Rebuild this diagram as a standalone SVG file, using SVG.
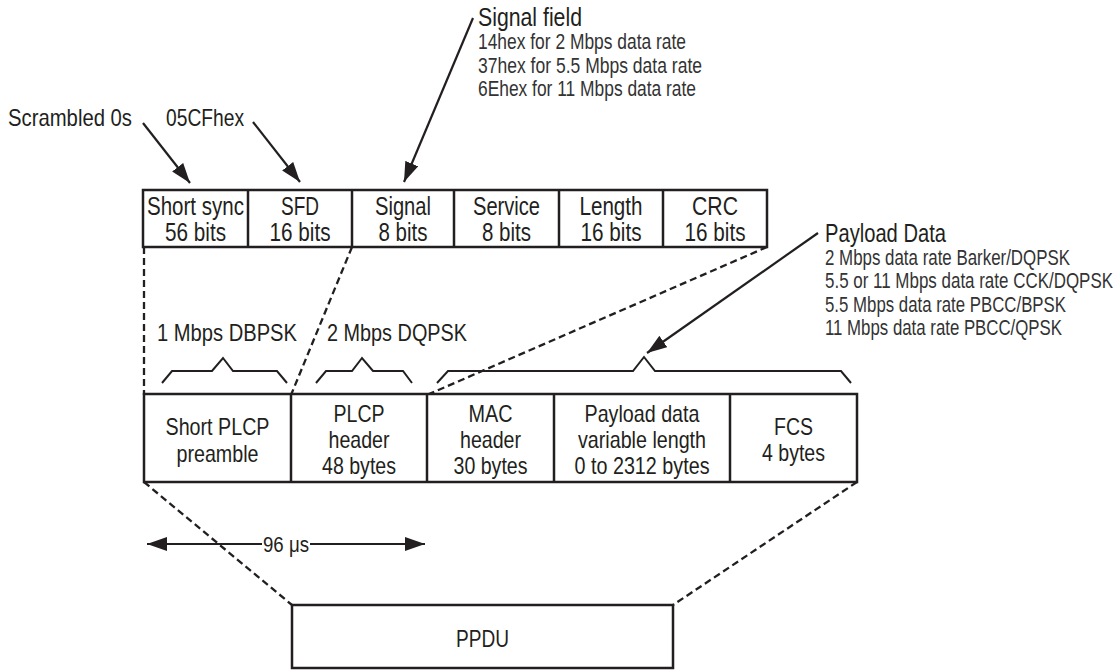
<svg xmlns="http://www.w3.org/2000/svg" width="1118" height="671" viewBox="0 0 1118 671">
<style>
text{font-family:"Liberation Sans",Arial,sans-serif;fill:#231f20}
.c{text-anchor:middle}
.f25{font-size:25px}
.f24{font-size:24px}
.sub{font-size:21.5px;fill:#333}
.box{fill:#fff;stroke:#231f20;stroke-width:2.5}
.div{stroke:#231f20;stroke-width:2.5}
.dash{fill:none;stroke:#231f20;stroke-width:2.3;stroke-dasharray:7 4}
.brace{fill:none;stroke:#231f20;stroke-width:2}
.arr{fill:none;stroke:#231f20;stroke-width:2.2}
</style>
<defs>
<marker id="ah" markerUnits="userSpaceOnUse" markerWidth="22" markerHeight="14" refX="20" refY="7" orient="auto">
<path d="M0,0 L20,7 L0,14 z" fill="#231f20"/>
</marker>
</defs>
<rect width="1118" height="671" fill="#fff"/>

<g id="connectors">
<path class="dash" d="M144,247 L144,395"/>
<path class="dash" d="M352,247 L291,395"/>
<path class="dash" d="M767,247 L427,395"/>
<path class="dash" d="M144,482 L292,605"/>
<path class="dash" d="M857,482 L673,605"/>
<path class="arr" d="M143,123 L190,183" marker-end="url(#ah)"/>
<path class="arr" d="M253,122 L300,182" marker-end="url(#ah)"/>
<path class="arr" d="M473,18 L404,182" marker-end="url(#ah)"/>
<path class="arr" d="M818,233 L647,353" marker-end="url(#ah)"/>
<polyline class="brace" points="162,383 172,371 212,371 223,358 233,371 277,371 287,383"/>
<polyline class="brace" points="316,383 326,371 352,371 362,358 373,371 403,371 412,383"/>
<polyline class="brace" points="437,383 448,371 633,371 644,357 655,371 841,371 851,383"/>
<path class="arr" d="M262,544 L147,544" marker-end="url(#ah)"/>
<path class="arr" d="M310,544 L425,544" marker-end="url(#ah)"/>
</g>

<g id="label-scrambled"><text class="f24" x="8" y="126" textLength="124" lengthAdjust="spacingAndGlyphs">Scrambled 0s</text></g>
<g id="label-05cf"><text class="f24" x="166" y="126" textLength="78" lengthAdjust="spacingAndGlyphs">05CFhex</text></g>
<g id="label-signal-field">
<text class="f25" x="478" y="26" textLength="104" lengthAdjust="spacingAndGlyphs">Signal field</text>
<text class="sub" x="478" y="49" textLength="208" lengthAdjust="spacingAndGlyphs">14hex for 2 Mbps data rate</text>
<text class="sub" x="478" y="73" textLength="224" lengthAdjust="spacingAndGlyphs">37hex for 5.5 Mbps data rate</text>
<text class="sub" x="478" y="96" textLength="218" lengthAdjust="spacingAndGlyphs">6Ehex for 11 Mbps data rate</text>
</g>
<g id="label-payload">
<text class="f25" x="825" y="242" textLength="121" lengthAdjust="spacingAndGlyphs">Payload Data</text>
<text class="sub" x="825" y="265" textLength="245" lengthAdjust="spacingAndGlyphs">2 Mbps data rate Barker/DQPSK</text>
<text class="sub" x="825" y="288" textLength="288" lengthAdjust="spacingAndGlyphs">5.5 or 11 Mbps data rate CCK/DQPSK</text>
<text class="sub" x="825" y="312" textLength="241" lengthAdjust="spacingAndGlyphs">5.5 Mbps data rate PBCC/BPSK</text>
<text class="sub" x="825" y="335" textLength="237" lengthAdjust="spacingAndGlyphs">11 Mbps data rate PBCC/QPSK</text>
</g>

<g id="plcp-fields">
<rect class="box" x="143" y="190" width="624" height="57"/>
<line class="div" x1="248" y1="190" x2="248" y2="247"/>
<line class="div" x1="352" y1="190" x2="352" y2="247"/>
<line class="div" x1="454" y1="190" x2="454" y2="247"/>
<line class="div" x1="559" y1="190" x2="559" y2="247"/>
<line class="div" x1="663" y1="190" x2="663" y2="247"/>
<g id="f-shortsync"><text class="c f25" x="195.5" y="215" textLength="97" lengthAdjust="spacingAndGlyphs">Short sync</text><text class="c f25" x="195.5" y="241" textLength="61" lengthAdjust="spacingAndGlyphs">56 bits</text></g>
<g id="f-sfd"><text class="c f25" x="300" y="215" textLength="38" lengthAdjust="spacingAndGlyphs">SFD</text><text class="c f25" x="300" y="241" textLength="61" lengthAdjust="spacingAndGlyphs">16 bits</text></g>
<g id="f-signal"><text class="c f25" x="403" y="215" textLength="56" lengthAdjust="spacingAndGlyphs">Signal</text><text class="c f25" x="403" y="241" textLength="49" lengthAdjust="spacingAndGlyphs">8 bits</text></g>
<g id="f-service"><text class="c f25" x="506.5" y="215" textLength="67" lengthAdjust="spacingAndGlyphs">Service</text><text class="c f25" x="506.5" y="241" textLength="49" lengthAdjust="spacingAndGlyphs">8 bits</text></g>
<g id="f-length"><text class="c f25" x="611" y="215" textLength="63" lengthAdjust="spacingAndGlyphs">Length</text><text class="c f25" x="611" y="241" textLength="61" lengthAdjust="spacingAndGlyphs">16 bits</text></g>
<g id="f-crc"><text class="c f25" x="715" y="215" textLength="46" lengthAdjust="spacingAndGlyphs">CRC</text><text class="c f25" x="715" y="241" textLength="61" lengthAdjust="spacingAndGlyphs">16 bits</text></g>
</g>

<g id="label-1mbps"><text class="f24" x="157" y="341" textLength="140" lengthAdjust="spacingAndGlyphs">1 Mbps DBPSK</text></g>
<g id="label-2mbps"><text class="f24" x="327" y="341" textLength="140" lengthAdjust="spacingAndGlyphs">2 Mbps DQPSK</text></g>

<g id="frame">
<rect class="box" x="144" y="394" width="713" height="88"/>
<line class="div" x1="291" y1="394" x2="291" y2="482"/>
<line class="div" x1="427" y1="394" x2="427" y2="482"/>
<line class="div" x1="554" y1="394" x2="554" y2="482"/>
<line class="div" x1="730" y1="394" x2="730" y2="482"/>
<g id="b-preamble"><text class="c f24" x="217.5" y="435" textLength="104" lengthAdjust="spacingAndGlyphs">Short PLCP</text><text class="c f24" x="217.5" y="462" textLength="82" lengthAdjust="spacingAndGlyphs">preamble</text></g>
<g id="b-plcp"><text class="c f24" x="359" y="422" textLength="51" lengthAdjust="spacingAndGlyphs">PLCP</text><text class="c f24" x="359" y="448" textLength="61" lengthAdjust="spacingAndGlyphs">header</text><text class="c f24" x="359" y="474" textLength="74" lengthAdjust="spacingAndGlyphs">48 bytes</text></g>
<g id="b-mac"><text class="c f24" x="490.5" y="422" textLength="44" lengthAdjust="spacingAndGlyphs">MAC</text><text class="c f24" x="490.5" y="448" textLength="61" lengthAdjust="spacingAndGlyphs">header</text><text class="c f24" x="490.5" y="474" textLength="74" lengthAdjust="spacingAndGlyphs">30 bytes</text></g>
<g id="b-payload"><text class="c f24" x="642" y="422" textLength="115" lengthAdjust="spacingAndGlyphs">Payload data</text><text class="c f24" x="642" y="448" textLength="128" lengthAdjust="spacingAndGlyphs">variable length</text><text class="c f24" x="642" y="474" textLength="135" lengthAdjust="spacingAndGlyphs">0 to 2312 bytes</text></g>
<g id="b-fcs"><text class="c f24" x="793.5" y="435" textLength="39" lengthAdjust="spacingAndGlyphs">FCS</text><text class="c f24" x="793.5" y="461" textLength="63" lengthAdjust="spacingAndGlyphs">4 bytes</text></g>
</g>

<g id="label-96us"><text class="c" style="font-size:22px" x="286" y="552" textLength="46" lengthAdjust="spacingAndGlyphs">96 μs</text></g>

<g id="ppdu">
<rect class="box" x="292" y="605" width="381" height="63"/>
<text class="c f24" x="482.5" y="647" textLength="53" lengthAdjust="spacingAndGlyphs">PPDU</text>
</g>
</svg>
